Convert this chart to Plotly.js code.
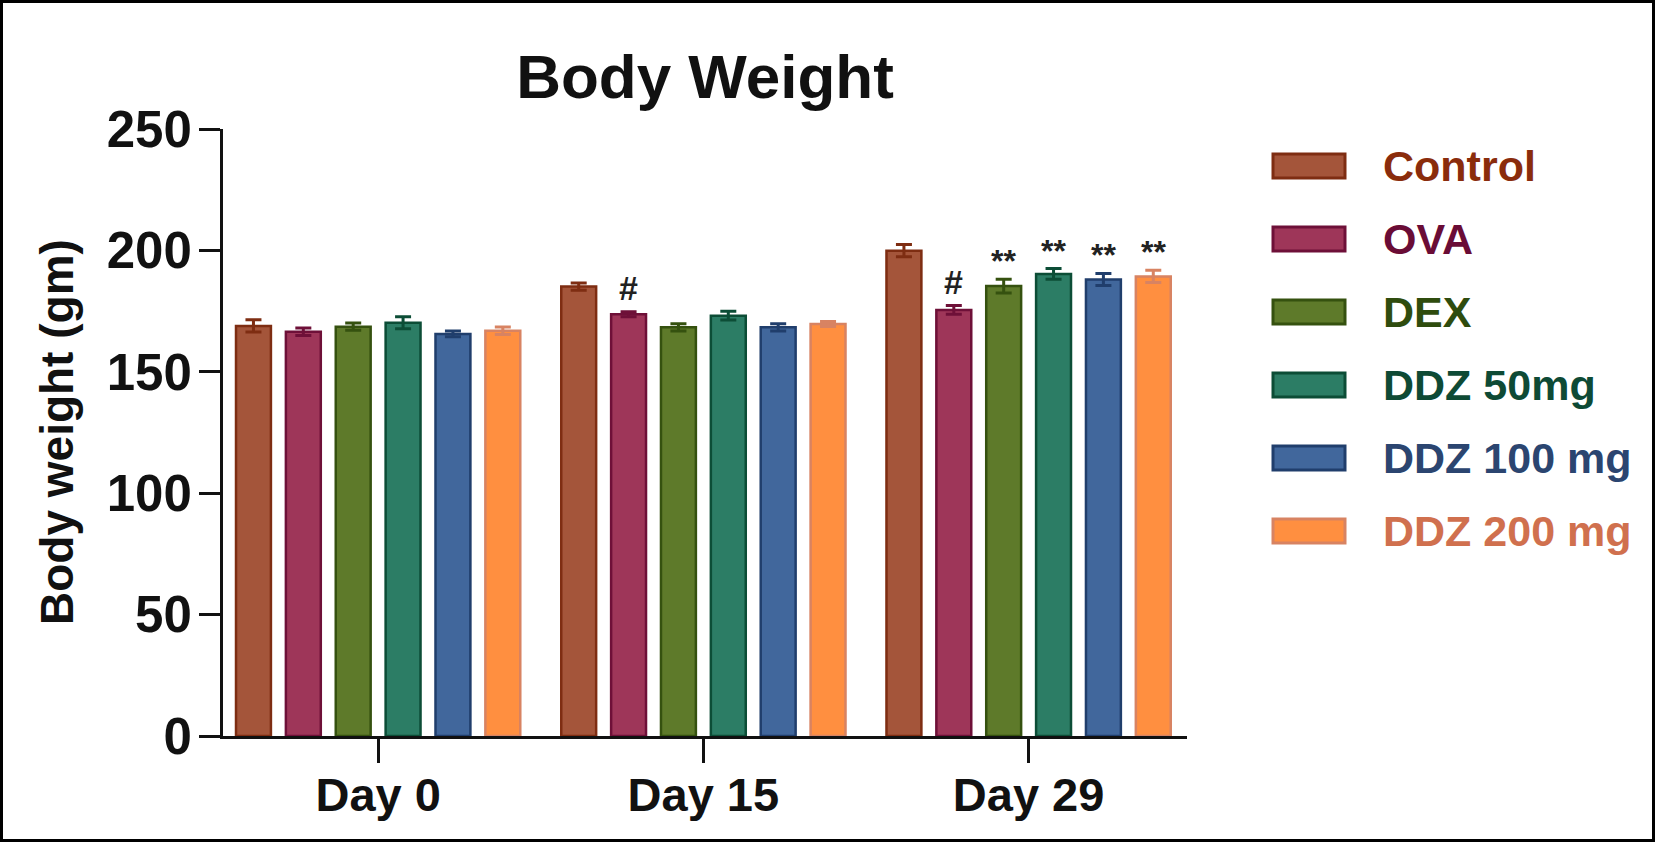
<!DOCTYPE html>
<html>
<head>
<meta charset="utf-8">
<script src="https://cdn.plot.ly/plotly-3.0.1.min.js"></script>
<style>
  html, body { margin: 0; padding: 0; background: #fff; }
  #chart { position: absolute; left: 0; top: 0; width: 1655px; height: 842px; }
  #frame { position: absolute; left: 0; top: 0; width: 1655px; height: 842px; box-sizing: border-box; border: 3px solid #000; pointer-events: none; }
</style>
</head>
<body>
<div id="chart"></div>
<div id="frame"></div>
<script>
// ---- data ----
const categories = ['Day 0', 'Day 15', 'Day 29'];
const seriesNames = ['Control', 'OVA', 'DEX', 'DDZ 50mg', 'DDZ 100 mg', 'DDZ 200 mg'];

const controlVals = [168.9, 185.1, 199.9];
const ovaVals     = [166.5, 173.7, 175.5];
const dexVals     = [168.6, 168.3, 185.3];
const ddz50Vals   = [170.2, 173.1, 190.3];
const ddz100Vals  = [165.6, 168.3, 188.0];
const ddz200Vals  = [166.9, 169.7, 189.3];

const controlErr = [2.5, 1.5, 2.5];
const ovaErr     = [1.5, 1.0, 1.8];
const dexErr     = [1.5, 1.5, 2.8];
const ddz50Err   = [2.5, 1.8, 2.2];
const ddz100Err  = [1.2, 1.5, 2.5];
const ddz200Err  = [1.5, 1.0, 2.5];

const controlMarks = ['', '', ''];
const ovaMarks     = ['', '#', '#'];
const dexMarks     = ['', '', '**'];
const ddz50Marks   = ['', '', '**'];
const ddz100Marks  = ['', '', '**'];
const ddz200Marks  = ['', '', '**'];

const yTickVals = [0, 50, 100, 150, 200, 250];

// ---- styles ----
const fillColors   = ['#A4553A', '#9E3659', '#5E7A2A', '#2C7D65', '#41679C', '#FF8F40'];
const borderColors = ['#7E2D12', '#6E1038', '#35510F', '#0C4D36', '#203E6C', '#D88362'];
const textColors   = ['#8A2C0C', '#6A0C36', '#2F4C0E', '#0E4A35', '#2B4570', '#D0704E'];

const allVals  = [controlVals, ovaVals, dexVals, ddz50Vals, ddz100Vals, ddz200Vals];
const allErr   = [controlErr, ovaErr, dexErr, ddz50Err, ddz100Err, ddz200Err];
const allMarks = [controlMarks, ovaMarks, dexMarks, ddz50Marks, ddz100Marks, ddz200Marks];

const FONT = 'Liberation Sans, Arial, Helvetica, sans-serif';
const W = 1655, H = 842;
const M = { l: 223, r: 468, t: 129, b: 106 };
const plotW = W - M.l - M.r, plotH = H - M.t - M.b;
const xRange = [-0.477, 2.487];
const bargap = 0.08, bargroupgap = 0.3;
const catPx = plotW / (xRange[1] - xRange[0]);
const slotPx = catPx * (1 - bargap) / seriesNames.length;

const px2x = p => (p - M.l) / plotW;
const px2y = p => (H - M.b - p) / plotH;

const traces = seriesNames.map((name, i) => ({
  type: 'bar',
  name: name,
  x: categories,
  y: allVals[i],
  marker: { color: fillColors[i], line: { color: borderColors[i], width: 2.5 } },
  error_y: { type: 'data', array: allErr[i], visible: true, color: borderColors[i], thickness: 3, width: 8 },
  showlegend: false,
  hoverinfo: 'skip'
}));

const annotations = [];
// significance marks
allMarks.forEach((marks, i) => {
  marks.forEach((m, j) => {
    if (!m) return;
    const isHash = m === '#';
    annotations.push({
      x: categories[j], y: allVals[i][j] + allErr[i][j], xref: 'x', yref: 'y',
      text: '<b>' + m + '</b>', showarrow: false,
      xshift: (i - (seriesNames.length - 1) / 2) * slotPx,
      yanchor: 'middle', yshift: isHash ? 24 : 18,
      font: { family: FONT, size: isHash ? 34 : 32, color: '#222' }
    });
  });
});

// y-axis title
annotations.push({
  xref: 'paper', yref: 'paper', x: px2x(57), y: px2y(432),
  text: '<b>Body weight (gm)</b>', textangle: -90, showarrow: false,
  xanchor: 'center', yanchor: 'middle',
  font: { family: FONT, size: 46, color: '#111' }
});

// legend (manual)
const shapes = [];
const legRowY = [166, 239, 312, 385, 458, 531];
seriesNames.forEach((name, i) => {
  const cy = legRowY[i];
  shapes.push({
    type: 'rect', xref: 'paper', yref: 'paper',
    x0: px2x(1273), x1: px2x(1345), y0: px2y(cy - 12), y1: px2y(cy + 12),
    fillcolor: fillColors[i], line: { color: borderColors[i], width: 3 }
  });
  annotations.push({
    xref: 'paper', yref: 'paper', x: px2x(1381), y: px2y(cy),
    xanchor: 'left', yanchor: 'middle', showarrow: false,
    text: '<b>' + name + '</b>',
    font: { family: FONT, size: 43, color: textColors[i] }
  });
});

const layout = {
  width: W, height: H,
  margin: M,
  paper_bgcolor: '#fff', plot_bgcolor: '#fff',
  barmode: 'group', bargap: bargap, bargroupgap: bargroupgap,
  title: {
    text: '<b>Body Weight</b>',
    font: { family: FONT, size: 62, color: '#111' },
    x: px2x(705), xref: 'paper', xanchor: 'center',
    y: 1 - 76 / H, yref: 'container', yanchor: 'middle'
  },
  xaxis: {
    type: 'category', range: xRange,
    showline: true, linecolor: '#111', linewidth: 3,
    ticks: 'outside', ticklen: 24, tickwidth: 3, tickcolor: '#111',
    ticklabelstandoff: -8,
    showgrid: false, zeroline: false,
    tickfont: { family: FONT, size: 47, color: '#111', weight: 'bold' }
  },
  yaxis: {
    range: [0, 250], tickvals: yTickVals, ticktext: yTickVals.map(String),
    showline: true, linecolor: '#111', linewidth: 3,
    ticks: 'outside', ticklen: 21, tickwidth: 3, tickcolor: '#111',
    ticklabelstandoff: -3,
    showgrid: false, zeroline: false,
    tickfont: { family: FONT, size: 51, color: '#111', weight: 'bold' }
  },
  annotations: annotations,
  shapes: shapes,
  showlegend: false
};

Plotly.newPlot('chart', traces, layout, { displayModeBar: false, staticPlot: true });
</script>
</body>
</html>
